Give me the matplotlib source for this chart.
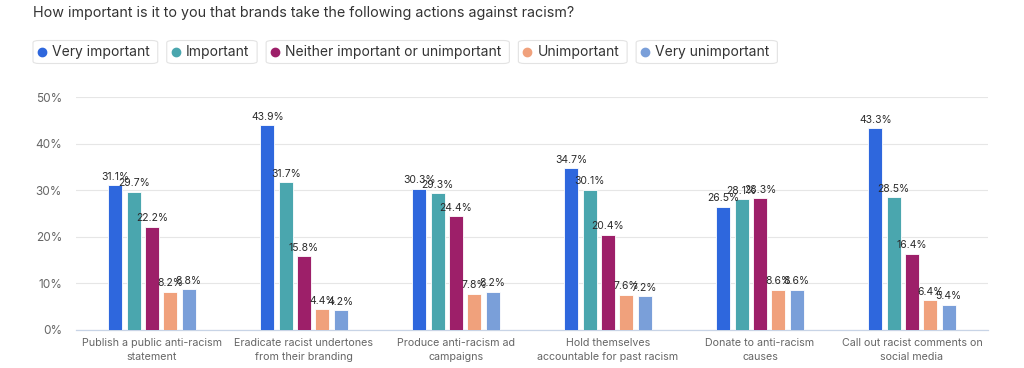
import matplotlib
matplotlib.use("Agg")
import matplotlib.pyplot as plt
import numpy as np
from matplotlib.patches import FancyBboxPatch

plt.rcParams['font.family'] = ['Inter', 'DejaVu Sans']

title = "How important is it to you that brands take the following actions against racism?"
categories = [
    "Publish a public anti-racism\nstatement",
    "Eradicate racist undertones\nfrom their branding",
    "Produce anti-racism ad\ncampaigns",
    "Hold themselves\naccountable for past racism",
    "Donate to anti-racism\ncauses",
    "Call out racist comments on\nsocial media",
]
series_names = ["Very important", "Important", "Neither important or unimportant",
                "Unimportant", "Very unimportant"]
very_important = [31.1, 43.9, 30.3, 34.7, 26.5, 43.3]
important = [29.7, 31.7, 29.3, 30.1, 28.1, 28.5]
neither = [22.2, 15.8, 24.4, 20.4, 28.3, 16.4]
unimportant = [8.2, 4.4, 7.8, 7.6, 8.6, 6.4]
very_unimportant = [8.8, 4.2, 8.2, 7.2, 8.6, 5.4]
series_values = [very_important, important, neither, unimportant, very_unimportant]
colors = ["#2e67dd", "#4aa6ae", "#9d1f69", "#f0a17c", "#7a9fd9"]
yticks = [0, 10, 20, 30, 40, 50]

fig = plt.figure(figsize=(10.24, 3.68), dpi=100)
ax = fig.add_axes([76/1024, 1-330/368, 912/1024, (330-97)/368])

x = np.arange(len(categories))
w = 14/152
step = 18.3/152
for i, (vals, c) in enumerate(zip(series_values, colors)):
    pos = x + (i - 2) * step
    ax.bar(pos, vals, width=w, color=c, edgecolor='white', linewidth=0.6, zorder=3)
    for p, v in zip(pos, vals):
        ax.annotate(f"{v}%", (p, v), xytext=(0, 2.5), textcoords='offset points',
                    ha='center', va='bottom', fontsize=7.5, color='#2b2b2b', zorder=4)

ax.set_xlim(-0.5, len(categories) - 0.5)
ax.set_ylim(0, 50)
ax.set_yticks(yticks)
ax.set_yticklabels([f"{t}%" for t in yticks])
ax.set_xticks(x)
ax.set_xticklabels(categories)
ax.tick_params(axis='both', length=0, labelcolor='#666666')
ax.tick_params(axis='y', pad=10, labelsize=8.5)
ax.tick_params(axis='x', pad=6, labelsize=7.7)
for lbl in ax.get_xticklabels():
    lbl.set_linespacing(1.45)
ax.grid(axis='y', color='#e6e6e6', linewidth=0.8, zorder=0)
for s in ['top', 'right', 'left']:
    ax.spines[s].set_visible(False)
ax.spines['bottom'].set_color('#c8d4e6')
ax.spines['bottom'].set_linewidth(0.9)

fig.text(33/1024, 1-13/368, title, fontsize=10.3, color='#333333', ha='left', va='center')

# legend pills
fig.canvas.draw()
renderer = fig.canvas.get_renderer()
xpix = 33
ycen = 52
pill_h = 23
for name, c in zip(series_names, colors):
    t = fig.text((xpix + 19)/1024, 1-ycen/368, name, fontsize=10, color='#333333',
                 ha='left', va='center')
    bb = t.get_window_extent(renderer)
    tw = bb.width
    total = 19 + tw + 8
    box = FancyBboxPatch(((xpix)/1024, 1-(ycen+pill_h/2)/368), total/1024, pill_h/368,
                         boxstyle="round,pad=0,rounding_size=0.006",
                         transform=fig.transFigure, facecolor='white',
                         edgecolor='#e3e3e3', linewidth=0.8)
    fig.patches.append(box)
    fig.add_artist(plt.Line2D([(xpix + 9)/1024], [1-ycen/368], marker='o', markersize=6,
                              color=c, transform=fig.transFigure, linestyle='none'))
    xpix += total + 9

fig.savefig("out.png", dpi=100, facecolor='white')
